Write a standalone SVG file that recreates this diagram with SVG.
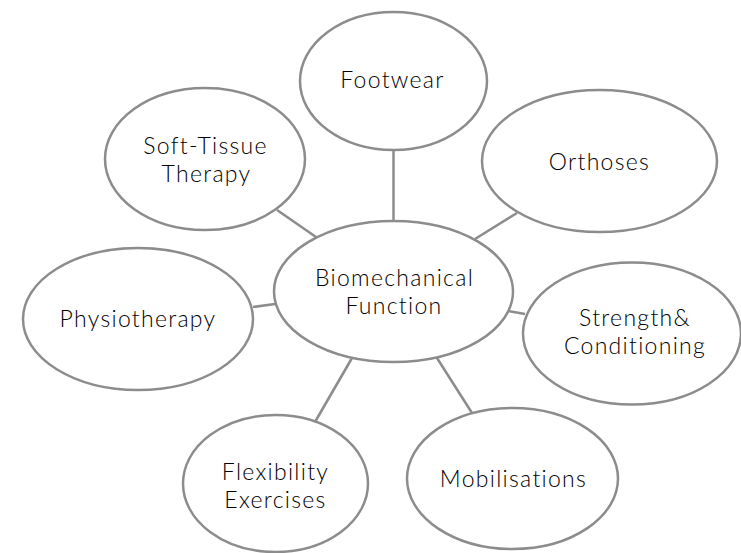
<svg xmlns="http://www.w3.org/2000/svg" width="741" height="553" viewBox="0 0 741 553">
<style>
.n ellipse{fill:#fff;stroke:#8c8c8c;stroke-width:2.5}
.c line{stroke:#8c8c8c;stroke-width:2.5}
text{font-family:Lato,"Noto Sans",sans-serif;font-size:23px;font-weight:300;letter-spacing:1.3px;fill:#000;text-anchor:middle}
</style>
<rect width="741" height="553" fill="#fff"/>
<g id="connectors" class="c">
<line x1="393.5" y1="150" x2="393.5" y2="221"/>
<line x1="517" y1="213" x2="475" y2="239"/>
<line x1="277" y1="210" x2="316" y2="237"/>
<line x1="253" y1="307" x2="275" y2="304"/>
<line x1="508" y1="311" x2="525" y2="314"/>
<line x1="352" y1="358" x2="315" y2="422"/>
<line x1="437" y1="358" x2="472" y2="413"/>
</g>
<g id="footwear" class="n"><ellipse cx="393.5" cy="81" rx="93.5" ry="69"/><text x="392.5" y="88">Footwear</text></g>
<g id="orthoses" class="n"><ellipse cx="599.5" cy="161" rx="117.5" ry="71"/><text x="599.5" y="170">Orthoses</text></g>
<g id="soft-tissue" class="n"><ellipse cx="205" cy="159" rx="100" ry="71"/><text x="205.5" y="154">Soft-Tissue</text><text x="206.5" y="182">Therapy</text></g>
<g id="physiotherapy" class="n"><ellipse cx="138" cy="319" rx="115" ry="71"/><text x="138" y="327">Physiotherapy</text></g>
<g id="strength" class="n"><ellipse cx="632" cy="333.5" rx="109" ry="71"/><text x="635" y="326">Strength&amp;</text><text x="635" y="354">Conditioning</text></g>
<g id="flexibility" class="n"><ellipse cx="275.5" cy="483.5" rx="92.5" ry="68.5"/><text x="275.5" y="479.5">Flexibility</text><text x="275.5" y="507.5">Exercises</text></g>
<g id="mobilisations" class="n"><ellipse cx="512.5" cy="478.5" rx="105.5" ry="70.5"/><text x="513.5" y="487">Mobilisations</text></g>
<g id="biomechanical" class="n"><ellipse cx="393.5" cy="291.5" rx="119.5" ry="70.5"/><text x="394.5" y="286">Biomechanical</text><text x="394" y="314">Function</text></g>
</svg>
